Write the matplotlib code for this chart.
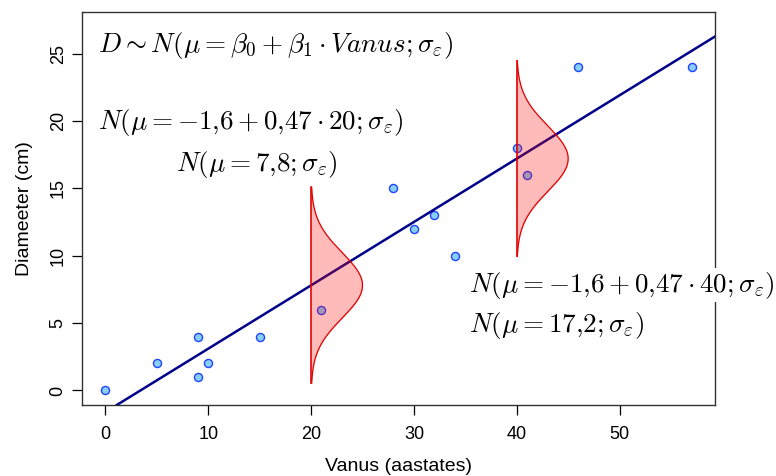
import matplotlib.pyplot as plt
import numpy as np

plt.rcParams['mathtext.fontset'] = 'cm'
plt.rcParams['font.family'] = ['Liberation Sans', 'DejaVu Sans']

# observations
vanus = [0, 5, 9, 9, 10, 15, 21, 28, 30, 32, 34, 40, 41, 46, 57]
diameeter = [0, 2, 4, 1, 2, 4, 6, 15, 12, 13, 10, 18, 16, 24, 24]

# fitted line and error distribution
b0, b1 = -1.6, 0.47
sigma = 2.42
curve_x = [20, 40]
curve_width = 5.0

fig = plt.figure(figsize=(7.76, 4.76), dpi=100)
ax = fig.add_axes([82 / 776, 71 / 476, 633 / 776, 393 / 476])

ax.scatter(vanus, diameeter, s=34, facecolor='#87CEFA', edgecolor='#2244FF',
           linewidth=1.0, zorder=2)
ax.axline((0, b0), slope=b1, color='#00008B', lw=1.8, zorder=3)

for x0 in curve_x:
    mu = b0 + b1 * x0
    yy = np.linspace(mu - 3 * sigma, mu + 3 * sigma, 200)
    dens = np.exp(-0.5 * ((yy - mu) / sigma) ** 2)
    xx = x0 + curve_width * dens
    ax.fill_betweenx(yy, x0, xx, color=(1, 0, 0, 0.27), lw=0, zorder=4)
    ax.plot(xx, yy, color='#E00000', lw=0.9, zorder=5)
    ax.plot([x0, x0], [yy[0], yy[-1]], color='#E00000', lw=1.2, zorder=5)

ax.set_xlim(-2.28, 59.28)
ax.set_ylim(-1.08, 28.08)
ax.set_xticks([0, 10, 20, 30, 40, 50])
ax.set_yticks([0, 5, 10, 15, 20, 25])
ax.tick_params(direction='out', length=7, width=0.9, labelsize=13)
ax.tick_params(axis='x', pad=8)
ax.tick_params(axis='y', pad=4)
plt.setp(ax.get_yticklabels(), rotation=90, va='center')
for s in ax.spines.values():
    s.set_linewidth(1.0)
    s.set_color('#333333')

ax.set_xlabel('Vanus (aastates)', fontsize=14, labelpad=11)
ax.set_ylabel('Diameeter (cm)', fontsize=14, labelpad=12)

tfs = 19.5
ax.text(-0.7, 25.6, r'$D \sim N(\mu = \beta_0 + \beta_1 \cdot Vanus; \sigma_\varepsilon)$',
        fontsize=tfs, va='center', ha='left')
ax.text(-0.7, 19.9, r'$N(\mu = -1{,}6 + 0{,}47 \cdot 20; \sigma_\varepsilon)$',
        fontsize=tfs, va='center', ha='left')
ax.text(14.7, 16.8, r'$N(\mu = 7{,}8; \sigma_\varepsilon)$',
        fontsize=tfs, va='center', ha='center')
ax.text(35.4, 7.8, r'$N(\mu = -1{,}6 + 0{,}47 \cdot 40; \sigma_\varepsilon)$',
        fontsize=tfs, va='center', ha='left', clip_on=False, zorder=10,
        bbox=dict(facecolor='white', edgecolor='none', pad=1))
ax.text(35.4, 4.8, r'$N(\mu = 17{,}2; \sigma_\varepsilon)$',
        fontsize=tfs, va='center', ha='left', zorder=10,
        bbox=dict(facecolor='white', edgecolor='none', pad=1))

fig.savefig('out.png', dpi=100)
